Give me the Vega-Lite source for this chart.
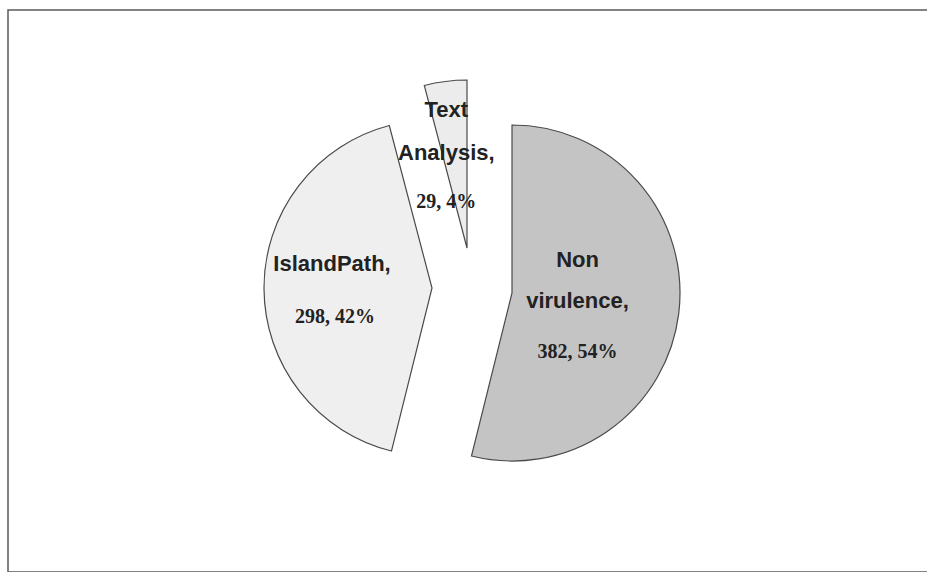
{
  "$schema": "https://vega.github.io/schema/vega-lite/v6.json",
  "width": 940,
  "height": 562,
  "autosize": {"type": "none"},
  "padding": {"left": 8, "top": 10, "right": 0, "bottom": 0},
  "background": "white",
  "config": {"view": {"stroke": null}},
  "data": {
    "values": [
      {"category": "Non virulence", "value": 382, "name_lines": ["Non", "virulence,"], "value_label": "382, 54%"},
      {"category": "IslandPath", "value": 298, "name_lines": ["IslandPath,"], "value_label": "298, 42%"},
      {"category": "Text Analysis", "value": 29, "name_lines": ["Text", "Analysis,"], "value_label": "29, 4%"}
    ]
  },
  "transform": [{"window": [{"op": "row_number", "as": "rank"}]}],
  "layer": [
    {
      "transform": [{"filter": "datum.rank === 1"}],
      "mark": {"type": "rect", "fill": null, "stroke": "#5a5a5a", "strokeWidth": 1.5},
      "encoding": {
        "x": {"value": 0},
        "x2": {"value": "width"},
        "y": {"value": 0},
        "y2": {"value": "height"}
      }
    },
    {
      "mark": {"type": "arc", "radius": 168, "fill": "#c4c4c4", "stroke": "#4a4a4a", "strokeWidth": 1.2, "xOffset": 34, "yOffset": 2},
      "encoding": {
        "theta": {"field": "value", "type": "quantitative", "stack": true},
        "order": {"field": "rank", "type": "quantitative", "sort": "ascending"},
        "opacity": {"condition": {"test": "datum.category === 'Non virulence'", "value": 1}, "value": 0}
      }
    },
    {
      "mark": {"type": "arc", "radius": 168, "fill": "#efefef", "stroke": "#4a4a4a", "strokeWidth": 1.2, "xOffset": -46, "yOffset": -3},
      "encoding": {
        "theta": {"field": "value", "type": "quantitative", "stack": true},
        "order": {"field": "rank", "type": "quantitative", "sort": "ascending"},
        "opacity": {"condition": {"test": "datum.category === 'IslandPath'", "value": 1}, "value": 0}
      }
    },
    {
      "mark": {"type": "arc", "radius": 168, "fill": "#ececec", "stroke": "#4a4a4a", "strokeWidth": 1.2, "xOffset": -11, "yOffset": -43},
      "encoding": {
        "theta": {"field": "value", "type": "quantitative", "stack": true},
        "order": {"field": "rank", "type": "quantitative", "sort": "ascending"},
        "opacity": {"condition": {"test": "datum.category === 'Text Analysis'", "value": 1}, "value": 0}
      }
    },
    {
      "mark": {"type": "text", "radius": 66, "font": "Liberation Sans", "fontWeight": "bold", "fontSize": 22, "lineHeight": 41, "align": "center", "baseline": "alphabetic", "fill": "#222222", "xOffset": 34, "yOffset": 2, "dy": -34},
      "encoding": {
        "theta": {"field": "value", "type": "quantitative", "stack": true},
        "order": {"field": "rank", "type": "quantitative", "sort": "ascending"},
        "text": {"field": "name_lines"},
        "opacity": {"condition": {"test": "datum.category === 'Non virulence'", "value": 1}, "value": 0}
      }
    },
    {
      "mark": {"type": "text", "radius": 66, "font": "Liberation Serif", "fontWeight": "bold", "fontSize": 20, "align": "center", "baseline": "alphabetic", "fill": "#222222", "xOffset": 34, "yOffset": 2, "dy": 57},
      "encoding": {
        "theta": {"field": "value", "type": "quantitative", "stack": true},
        "order": {"field": "rank", "type": "quantitative", "sort": "ascending"},
        "text": {"field": "value_label"},
        "opacity": {"condition": {"test": "datum.category === 'Non virulence'", "value": 1}, "value": 0}
      }
    },
    {
      "mark": {"type": "text", "radius": 100, "font": "Liberation Sans", "fontWeight": "bold", "fontSize": 22, "lineHeight": 41, "align": "center", "baseline": "alphabetic", "fill": "#222222", "xOffset": -46, "yOffset": -3, "dy": -18},
      "encoding": {
        "theta": {"field": "value", "type": "quantitative", "stack": true},
        "order": {"field": "rank", "type": "quantitative", "sort": "ascending"},
        "text": {"field": "name_lines"},
        "opacity": {"condition": {"test": "datum.category === 'IslandPath'", "value": 1}, "value": 0}
      }
    },
    {
      "mark": {"type": "text", "radius": 100, "font": "Liberation Serif", "fontWeight": "bold", "fontSize": 20, "align": "center", "baseline": "alphabetic", "fill": "#222222", "xOffset": -46, "yOffset": -3, "dy": 34, "dx": 3},
      "encoding": {
        "theta": {"field": "value", "type": "quantitative", "stack": true},
        "order": {"field": "rank", "type": "quantitative", "sort": "ascending"},
        "text": {"field": "value_label"},
        "opacity": {"condition": {"test": "datum.category === 'IslandPath'", "value": 1}, "value": 0}
      }
    },
    {
      "mark": {"type": "text", "radius": 60, "font": "Liberation Sans", "fontWeight": "bold", "fontSize": 22, "lineHeight": 43, "align": "center", "baseline": "alphabetic", "fill": "#222222", "xOffset": -11, "yOffset": -43, "dy": -71.5, "dx": -13},
      "encoding": {
        "theta": {"field": "value", "type": "quantitative", "stack": true},
        "order": {"field": "rank", "type": "quantitative", "sort": "ascending"},
        "text": {"field": "name_lines"},
        "opacity": {"condition": {"test": "datum.category === 'Text Analysis'", "value": 1}, "value": 0}
      }
    },
    {
      "mark": {"type": "text", "radius": 60, "font": "Liberation Serif", "fontWeight": "bold", "fontSize": 20, "align": "center", "baseline": "alphabetic", "fill": "#222222", "xOffset": -11, "yOffset": -43, "dy": 19.5, "dx": -13},
      "encoding": {
        "theta": {"field": "value", "type": "quantitative", "stack": true},
        "order": {"field": "rank", "type": "quantitative", "sort": "ascending"},
        "text": {"field": "value_label"},
        "opacity": {"condition": {"test": "datum.category === 'Text Analysis'", "value": 1}, "value": 0}
      }
    }
  ]
}
